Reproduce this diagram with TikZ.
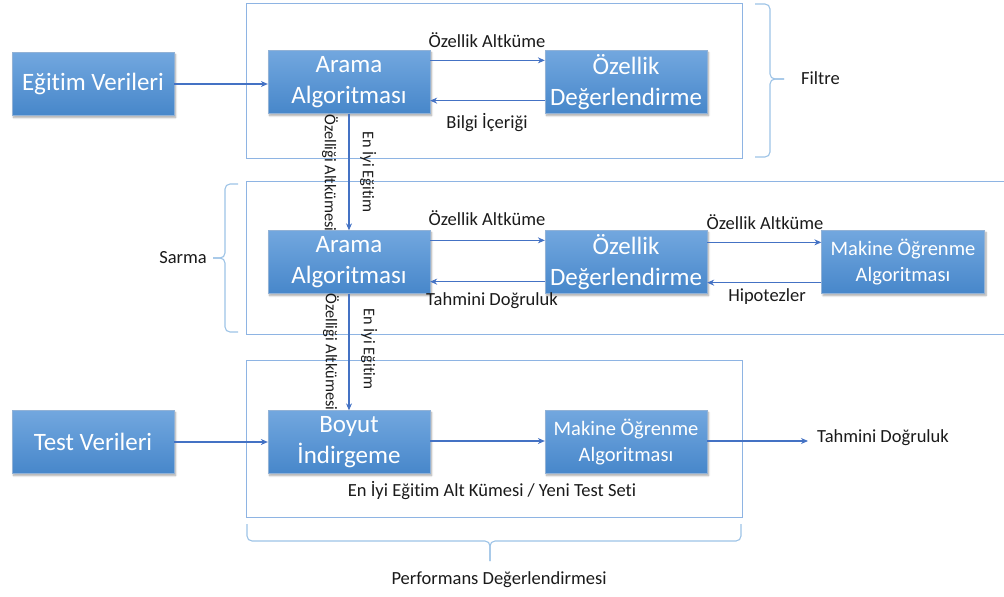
\documentclass[tikz,border=0pt]{standalone}
\usepackage{fontspec}
\setmainfont{Carlito}[Ligatures={NoCommon}]
\usetikzlibrary{arrows.meta,shadows.blur,calc}
\definecolor{boxtop}{HTML}{72A7DF}
\definecolor{boxbot}{HTML}{4787CA}
\definecolor{boxedge}{HTML}{4A7EBB}
\definecolor{arrowc}{HTML}{4472C4}
\definecolor{framec}{HTML}{8EB4E3}
\definecolor{bracec}{HTML}{9DC3E6}
\definecolor{txt}{HTML}{1A1A1A}
\tikzset{
  bluebox/.style={draw=boxedge!60, line width=0.3pt, top color=boxtop, bottom color=boxbot,
    minimum width=162pt, minimum height=63pt, inner sep=0pt, text=white, align=center,
    font=\fontsize{25}{31}\selectfont,
    blur shadow={shadow blur steps=6, shadow xshift=1.5pt, shadow yshift=-2pt, shadow opacity=35}},
  smallbox/.style={bluebox, font=\fontsize{20.5}{26}\selectfont},
  conn/.style={draw=arrowc, line width=1.1pt, -{Stealth[length=7pt,width=6pt]}},
  frame/.style={draw=framec, line width=0.8pt},
  bracestyle/.style={draw=bracec, line width=1.1pt, rounded corners=5pt},
  lbl/.style={text=txt, font=\fontsize{18.5}{20}\selectfont, inner sep=0pt},
  vlbl/.style={text=txt, font=\fontsize{16.3}{18}\selectfont, inner sep=0pt, rotate=-90},
}
\begin{document}
\begin{tikzpicture}[x=1pt,y=-1pt]
\useasboundingbox (0,0) rectangle (1004,597);
% frames
\draw[frame] (246,3) rectangle (742,158);
\draw[frame] (1005,181) -- (246,181) -- (246,334) -- (1005,334);
\draw[frame] (246,360) rectangle (742,517);
% braces
\draw[bracestyle] (755,4) -- (770,4) -- (770,79) -- (784,79);
\draw[bracestyle] (755,157) -- (770,157) -- (770,79) -- (784,79);
\draw[bracestyle] (238,184) -- (225,184) -- (225,258) -- (213,258);
\draw[bracestyle] (238,332) -- (225,332) -- (225,258) -- (213,258);
\draw[bracestyle] (247,524) -- (247,541) -- (490,541) -- (490,561);
\draw[bracestyle] (741,524) -- (741,541) -- (490,541) -- (490,561);
% boxes
\node[bluebox] (egitim) at (93,84) {Eğitim Verileri};
\node[bluebox] (arama1) at (349,82) {Arama\\Algoritması};
\node[bluebox] (ozellik1) at (626,82) {Özellik\\Değerlendirme};
\node[bluebox] (arama2) at (349,262) {Arama\\Algoritması};
\node[bluebox] (ozellik2) at (626,262) {Özellik\\Değerlendirme};
\node[smallbox, minimum width=163pt] (makine2) at (903,262) {Makine Öğrenme\\Algoritması};
\node[bluebox] (test) at (93,442) {Test Verileri};
\node[bluebox] (boyut) at (349,442) {Boyut\\İndirgeme};
\node[smallbox] (makine3) at (626,442) {Makine Öğrenme\\Algoritması};
\coordinate (out) at (808,441);
% connectors
\draw[conn] (egitim.east) -- (egitim.east -| arama1.west);
\draw[conn] ([yshift=-10pt]arama1.north east) -- ([yshift=-10pt]ozellik1.north west);
\draw[conn] ([yshift=13pt]ozellik1.south west) -- ([yshift=13pt]arama1.south east);
\draw[conn] (arama1.south) -- (arama2.north);
\draw[conn] ([yshift=-10pt]arama2.north east) -- ([yshift=-10pt]ozellik2.north west);
\draw[conn] ([yshift=12pt]ozellik2.south west) -- ([yshift=12pt]arama2.south east);
\draw[conn] ([yshift=-12pt]ozellik2.north east) -- ([yshift=-12pt]makine2.north west);
\draw[conn] ([yshift=11pt]makine2.south west) -- ([yshift=11pt]ozellik2.south east);
\draw[conn] (arama2.south) -- (boyut.north);
\draw[conn] (test.east) -- (test.east -| boyut.west);
\draw[conn] (boyut.east |- 0,441) -- (makine3.west |- 0,441);
\draw[conn] (makine3.east |- out) -- (out);
% labels
\node[lbl] (l1) at (487,40) {Özellik Altküme};
\node[lbl] (l2) at (487,123) {Bilgi İçeriği};
\node[lbl] (l3) at (487,218) {Özellik Altküme};
\node[lbl] (l4) at (492,301) {Tahmini Doğruluk};
\node[lbl] (l5) at (765,222) {Özellik Altküme};
\node[lbl] (l6) at (767,297) {Hipotezler};
\node[lbl, anchor=west] (l7) at (817,438) {Tahmini Doğruluk};
\node[lbl] (l8) at (492,491) {En İyi Eğitim Alt Kümesi / Yeni Test Seti};
\node[lbl, anchor=west] (filtre) at (801,78) {Filtre};
\node[lbl] (sarma) at (183,258) {Sarma};
\node[lbl] (perf) at (499,580) {Performans Değerlendirmesi};
\node[vlbl] (v1) at (330,173) {Özelliği Altkümesi};
\node[vlbl] (v2) at (368,172) {En İyi Eğitim};
\node[vlbl] (v3) at (331,352) {Özelliği Altkümesi};
\node[vlbl] (v4) at (369,349) {En İyi Eğitim};
\end{tikzpicture}
\end{document}
